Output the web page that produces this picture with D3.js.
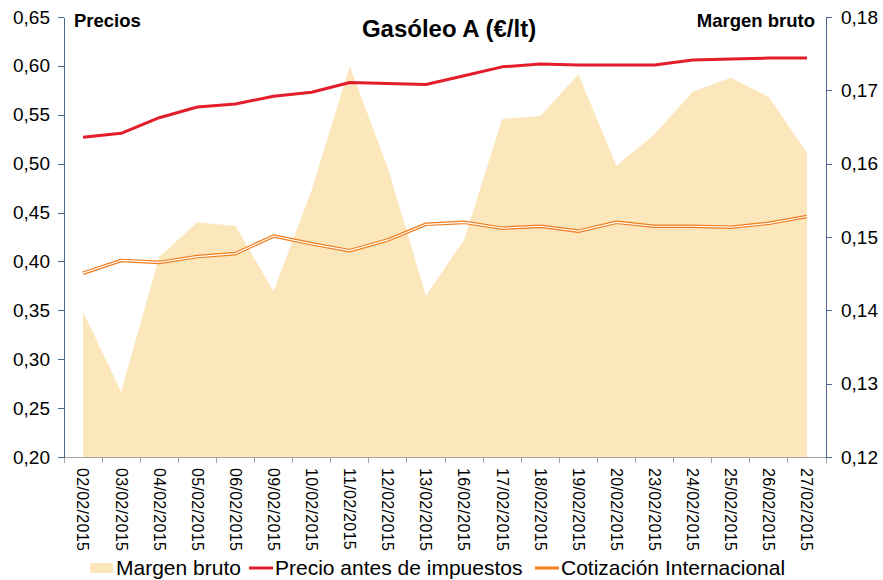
<!DOCTYPE html>
<meta charset="utf-8">
<style>
body { margin: 0; background: #fff; }
text { font-family: "Liberation Sans", Arial, sans-serif; fill: #000; }
.axis path, .axis line { shape-rendering: crispEdges; }
.axis text { font-size: 19px; }
.axis--x text { font-size: 16px; }
</style>
<svg width="883" height="580"></svg>
<script src="https://d3js.org/d3.v7.min.js"></script>
<script>

var fechas = ["02/02/2015", "03/02/2015", "04/02/2015", "05/02/2015", "06/02/2015",
              "09/02/2015", "10/02/2015", "11/02/2015", "12/02/2015", "13/02/2015",
              "16/02/2015", "17/02/2015", "18/02/2015", "19/02/2015", "20/02/2015",
              "23/02/2015", "24/02/2015", "25/02/2015", "26/02/2015", "27/02/2015"];

// eje derecho
var margenBruto = [0.1398, 0.1289, 0.1473, 0.1520, 0.1515, 0.1426, 0.1564, 0.1733, 0.1594, 0.1420,
                   0.1496, 0.1661, 0.1665, 0.1722, 0.1597, 0.1640, 0.1698, 0.1717, 0.1691, 0.1615];

// eje izquierdo
var precioAntesImpuestos = [0.527, 0.531, 0.547, 0.558, 0.561, 0.569, 0.573, 0.583, 0.582, 0.581,
                            0.590, 0.599, 0.602, 0.601, 0.601, 0.601, 0.606, 0.607, 0.608, 0.608];

var cotizacion = [0.388, 0.401, 0.399, 0.405, 0.408, 0.426, 0.418, 0.411, 0.422, 0.438,
                  0.440, 0.434, 0.436, 0.431, 0.440, 0.436, 0.436, 0.435, 0.439, 0.446];

var ticksIzq = [0.20, 0.25, 0.30, 0.35, 0.40, 0.45, 0.50, 0.55, 0.60, 0.65];
var ticksDer = [0.12, 0.13, 0.14, 0.15, 0.16, 0.17, 0.18];

var svg = d3.select("svg"),
    margin = {top: 17, right: 57, bottom: 123, left: 64},
    width = +svg.attr("width") - margin.left - margin.right,
    height = +svg.attr("height") - margin.top - margin.bottom,
    g = svg.append("g").attr("transform", "translate(" + margin.left + "," + margin.top + ")");

var fmt = function(d) { return d3.format(".2f")(d).replace(".", ","); };

var x = d3.scaleBand()
    .domain(fechas)
    .range([0, width]);

var yIzq = d3.scaleLinear()
    .domain([0.20, 0.65])
    .range([height, 0]);

var yDer = d3.scaleLinear()
    .domain([0.12, 0.18])
    .range([height, 0]);

var cx = function(i) { return x(fechas[i]) + x.bandwidth() / 2; };

var area = d3.area()
    .x(function(d, i) { return cx(i); })
    .y0(height)
    .y1(function(d) { return yDer(d); });

var lineIzq = d3.line()
    .x(function(d, i) { return cx(i); })
    .y(function(d) { return yIzq(d); });

g.append("path")
    .datum(margenBruto)
    .attr("fill", "#fce7bd")
    .attr("d", area);

// linea doble naranja
g.append("path")
    .datum(cotizacion)
    .attr("fill", "none")
    .attr("stroke", "#f07c1c")
    .attr("stroke-width", 3.6)
    .attr("stroke-linejoin", "round")
    .attr("d", lineIzq);

g.append("path")
    .datum(cotizacion)
    .attr("fill", "none")
    .attr("stroke", "#fff")
    .attr("stroke-width", 1.2)
    .attr("stroke-linejoin", "round")
    .attr("d", lineIzq);

g.append("path")
    .datum(precioAntesImpuestos)
    .attr("fill", "none")
    .attr("stroke", "#e31e2a")
    .attr("stroke-width", 3)
    .attr("stroke-linejoin", "round")
    .attr("d", lineIzq);

// ejes
var ax = g.append("g")
    .attr("class", "axis axis--x")
    .attr("transform", "translate(0," + height + ")")
    .call(d3.axisBottom(x).tickSize(0).tickPadding(0));
ax.select(".domain").attr("stroke", "#a6a6a6");
ax.selectAll(".tick text")
    .attr("transform", "rotate(90)")
    .attr("x", 11)
    .attr("y", 0)
    .attr("dy", "0.35em")
    .style("text-anchor", "start")
    .style("letter-spacing", "0.3px");

// marcas entre categorias
g.append("g")
    .selectAll("line")
    .data(d3.range(fechas.length + 1))
    .enter().append("line")
    .attr("x1", function(i) { return i * x.step(); })
    .attr("x2", function(i) { return i * x.step(); })
    .attr("y1", height)
    .attr("y2", height + 6)
    .attr("stroke", "#a6a6a6")
    .attr("shape-rendering", "crispEdges");

var ayl = g.append("g")
    .attr("class", "axis axis--y")
    .call(d3.axisLeft(yIzq).tickValues(ticksIzq).tickFormat(fmt).tickSize(6).tickSizeOuter(0).tickPadding(8));
ayl.selectAll("path, line").attr("stroke", "#4a6890");

var ayr = g.append("g")
    .attr("class", "axis axis--y2")
    .attr("transform", "translate(" + width + ",0)")
    .call(d3.axisRight(yDer).tickValues(ticksDer).tickFormat(fmt).tickSize(6).tickSizeOuter(0).tickPadding(9));
ayr.selectAll("path, line").attr("stroke", "#4a6890");

// textos
svg.append("text")
    .attr("x", 449)
    .attr("y", 37)
    .attr("text-anchor", "middle")
    .style("font-size", "24px")
    .style("font-weight", "bold")
    .text("Gasóleo A (€/lt)");

svg.append("text")
    .attr("x", 74)
    .attr("y", 27)
    .style("font-size", "18.5px")
    .style("font-weight", "bold")
    .text("Precios");

svg.append("text")
    .attr("x", 815)
    .attr("y", 27)
    .attr("text-anchor", "end")
    .style("font-size", "18.5px")
    .style("font-weight", "bold")
    .text("Margen bruto");

// leyenda
var ley = svg.append("g").attr("transform", "translate(0,568)");

ley.append("rect")
    .attr("x", 90).attr("y", -5).attr("width", 23).attr("height", 10)
    .attr("fill", "#fce7bd");
ley.append("text").attr("x", 116).attr("y", 7).style("font-size", "21px").text("Margen bruto");

ley.append("line")
    .attr("x1", 249).attr("x2", 273).attr("y1", 0).attr("y2", 0)
    .attr("stroke", "#e31e2a").attr("stroke-width", 3);
ley.append("text").attr("x", 275).attr("y", 7).style("font-size", "21px").text("Precio antes de impuestos");

ley.append("line")
    .attr("x1", 535).attr("x2", 559).attr("y1", 0).attr("y2", 0)
    .attr("stroke", "#f07c1c").attr("stroke-width", 3);
ley.append("text").attr("x", 561).attr("y", 7).style("font-size", "21px").text("Cotización Internacional");

</script>
